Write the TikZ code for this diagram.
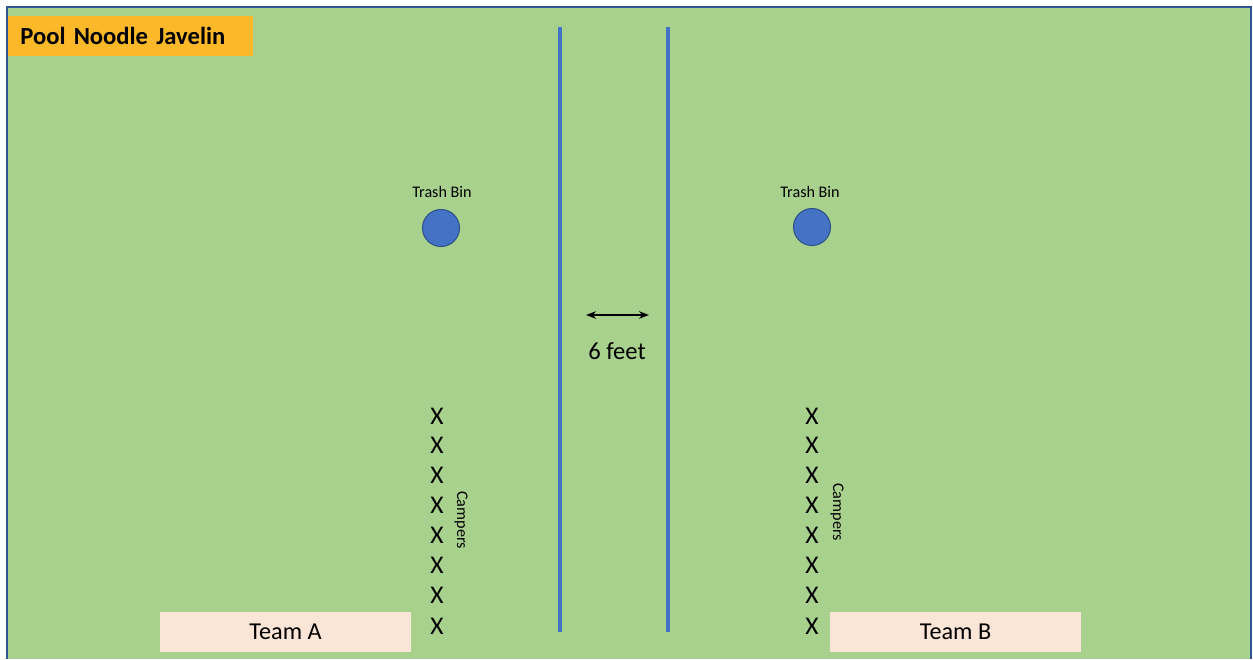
\documentclass[tikz,border=0pt]{standalone}
\usepackage{fontspec}
\setmainfont{Carlito}
\usepackage{xcolor}
\usetikzlibrary{arrows.meta,positioning,calc}
\definecolor{field}{HTML}{A9D18E}
\definecolor{frame}{HTML}{2F5597}
\definecolor{lane}{HTML}{4472C4}
\definecolor{titleorange}{HTML}{FBB829}
\definecolor{teampink}{HTML}{FBE5D6}
\tikzset{
  titlebox/.style={fill=titleorange, minimum width=4.9cm, minimum height=0.8cm,
                   inner sep=0pt, font=\fontsize{14}{16}\selectfont\bfseries},
  teambox/.style={fill=teampink, minimum width=5.02cm, minimum height=0.8cm,
                  inner sep=0pt, font=\fontsize{13.8}{16}\selectfont},
  bin/.style={circle, draw=lane!70!black, line width=0.6pt, fill=lane,
              minimum size=0.74cm, inner sep=0pt},
  binlabel/.style={font=\fontsize{9.2}{11}\selectfont, inner sep=0pt},
  camper/.style={font=\fontsize{14.5}{16}\selectfont, inner sep=0pt},
  sidelabel/.style={font=\fontsize{9.2}{11}\selectfont, rotate=-90, inner sep=0pt},
  laneline/.style={draw=lane, line width=2.6pt},
  gap/.style={{Stealth[length=2mm]}-{Stealth[length=2mm]}, line width=1pt}
}
\begin{document}
\begin{tikzpicture}[x=0.02cm, y=-0.02cm]
  \useasboundingbox (0,0) rectangle (1253,659);
  % field
  \fill[white] (0,0) rectangle (1253,659);
  \fill[field] (7,7) rectangle (1251,659);
  \draw[frame, line width=0.8pt] (7,659) -- (7,7) -- (1251,7) -- (1251,659);

  \node[titlebox, anchor=north west, text width=4.42cm, align=left] (title) at (8,16) {Pool Noodle Javelin};

  % centre lines
  \coordinate (laneAtop) at (560,27);
  \coordinate (laneAbot) at (560,632);
  \coordinate (laneBtop) at (668,27);
  \coordinate (laneBbot) at (668,632);
  \draw[laneline] (laneAtop) -- (laneAbot);
  \draw[laneline] (laneBtop) -- (laneBbot);

  \coordinate (gapL) at (586,315);
  \coordinate (gapR) at (649,315);
  \draw[gap] (gapL) -- (gapR);
  \node[font=\fontsize{14}{16}\selectfont] (gaplabel) at (617,351) {6 feet};

  % trash bins
  \node[bin] (binA) at (441,228) {};
  \node[binlabel] (binAlabel) at (442,192) {Trash Bin};
  \node[bin] (binB) at (812,227) {};
  \node[binlabel] (binBlabel) at (810,192) {Trash Bin};

  % campers
  \foreach \i/\y in {1/416,2/445,3/475,4/505,5/535,6/565,7/595,8/626} {
    \node[camper] (campA\i) at (437,\y) {X};
    \node[camper] (campB\i) at (812,\y) {X};
  }
  \node[sidelabel] (campersA) at (461,520) {Campers};
  \node[sidelabel] (campersB) at (837,512) {Campers};

  % teams
  \node[teambox] (teamA) at (285.5,632) {Team A};
  \node[teambox] (teamB) at (955.5,632) {Team B};
\end{tikzpicture}
\end{document}
